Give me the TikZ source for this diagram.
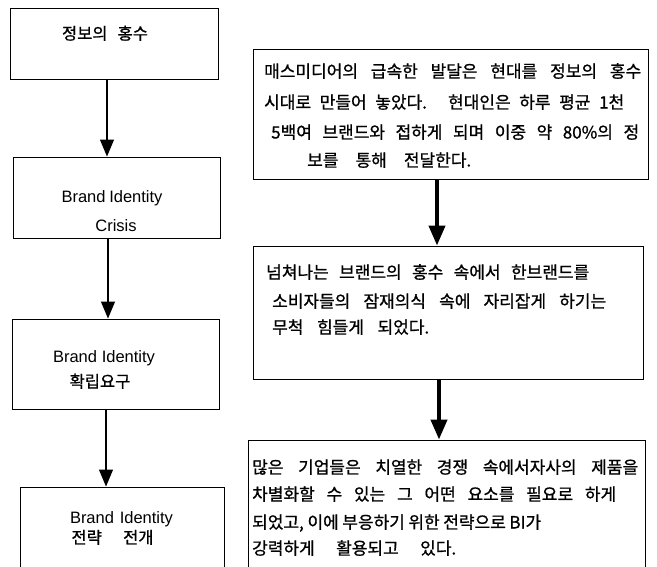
\documentclass[tikz,border=0pt]{standalone}
\usepackage{fontspec}
\setmainfont{Liberation Sans}
\newfontfamily\kr[FakeBold=0.9]{Noto Sans CJK KR}
\usetikzlibrary{arrows.meta}
\newcommand\fitline[2]{{\spaceskip=3pt plus 1fil\makebox[#1][s]{#2}}}
\begin{document}
\begin{tikzpicture}[x=1pt,y=-1pt,
  box/.style={draw=black, line width=0.9pt, inner sep=0pt},
  thinarr/.style={line width=1.1pt, -{Triangle[width=14pt,length=17pt]}},
  thickarr/.style={line width=4pt, -{Triangle[width=16pt,length=20pt]}},
  krR/.style={font=\kr\fontsize{17pt}{20pt}\selectfont, inner sep=0pt, anchor=base west},
  krL/.style={font=\kr\fontsize{16.5pt}{19pt}\selectfont, inner sep=0pt, anchor=base},
  enL/.style={font=\fontsize{16.5pt}{19pt}\selectfont, inner sep=0pt, anchor=base}]
\clip (0,0) rectangle (657,566);
\fill[white] (0,0) rectangle (657,566);

% left boxes
\node[box, minimum width=208pt, minimum height=71pt] (b1) at (114,43.5) {};
\node[box, minimum width=207pt, minimum height=81pt] (b2) at (116.5,197.5) {};
\node[box, minimum width=207pt, minimum height=90pt] (b3) at (115.5,364) {};
\node[box, minimum width=204pt, minimum height=113pt] (b4) at (122,543.5) {};

% right boxes
\node[box, minimum width=395pt, minimum height=130pt] (r1) at (450.5,114) {};
\node[box, minimum width=390pt, minimum height=133pt] (r2) at (448,312.5) {};
\node[box, minimum width=397pt, minimum height=160pt] (r3) at (446.5,520) {};

% arrows
\coordinate (xa1) at (107,0);
\coordinate (xa2) at (108,0);
\coordinate (xa3) at (106,0);
\coordinate (xr1) at (437,0);
\coordinate (xr2) at (439,0);
\draw[thinarr] (b1.south -| xa1) -- (b2.north -| xa1);
\draw[thinarr] (b2.south -| xa2) -- (b3.north -| xa2);
\draw[thinarr] (b3.south -| xa3) -- (b4.north -| xa3);
\draw[thickarr] (r1.south -| xr1) -- (r2.north -| xr1);
\draw[thickarr] (r2.south -| xr2) -- (r3.north -| xr2);

% left texts
\node[krL] (t1) at (105,39.5) {\fitline{86pt}{정보의 홍수}};
\node[enL] (t2a) at (112,202) {\fitline{101pt}{Brand Identity}};
\node[enL] (t2b) at (116,231) {Crisis};
\node[enL] (t3a) at (104,362) {\fitline{102pt}{Brand Identity}};
\node[krL] (t3b) at (100,387.5) {확립요구};
\node[enL] (t4a) at (121.5,523) {\fitline{103pt}{Brand Identity}};
\node[krL] (t4b) at (112.5,543.5) {\fitline{82pt}{전략 전개}};

% right texts
\node[krR] (r1a) at (264,77.5) {\fitline{377pt}{매스미디어의 급속한 발달은 현대를 정보의 홍수}};
\node[krR] (r1b) at (264,108.5) {\fitline{360pt}{시대로 만들어 놓았다. 현대인은 하루 평균 1천}};
\node[krR] (r1c) at (271,138.5) {\fitline{368pt}{5백여 브랜드와 접하게 되며 이중 약 80\%의 정}};
\node[krR] (r1d) at (307,166.5) {\fitline{164pt}{보를 통해 전달한다.}};

\node[krR] (r2a) at (266,278.5) {\fitline{323pt}{넘쳐나는 브랜드의 홍수 속에서 한브랜드를}};
\node[krR] (r2b) at (272,307.5) {\fitline{334pt}{소비자들의 잠재의식 속에 자리잡게 하기는}};
\node[krR] (r2c) at (272,333.5) {\fitline{157pt}{무척 힘들게 되었다.}};

\node[krR] (r3a) at (252,473.5) {\fitline{386pt}{많은 기업들은 치열한 경쟁 속에서자사의 제품을}};
\node[krR] (r3b) at (252,500.5) {\fitline{364pt}{차별화할 수 있는 그 어떤 요소를 필요로 하게}};
\node[krR] (r3c) at (252,528.5) {\fitline{289pt}{되었고, 이에 부응하기 위한 전략으로 BI가}};
\node[krR] (r3d) at (252,554.5) {\fitline{204pt}{강력하게 활용되고 있다.}};
\end{tikzpicture}
\end{document}
